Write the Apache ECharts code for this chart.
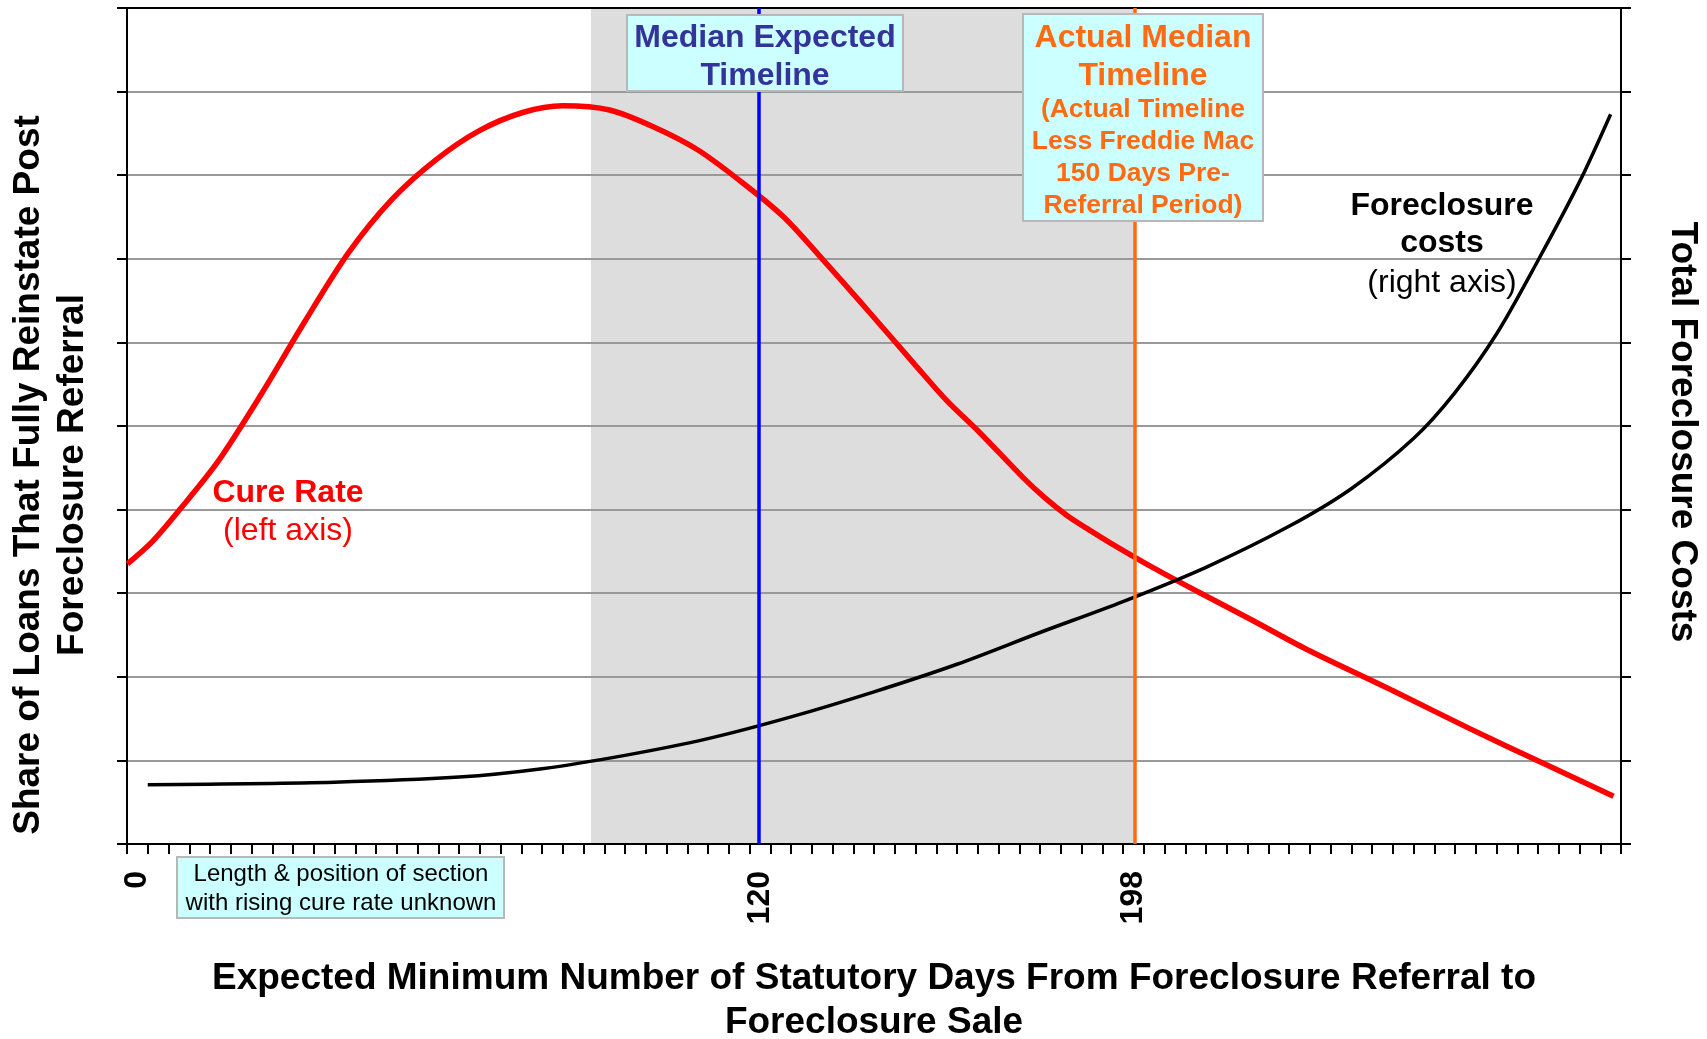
<!DOCTYPE html>
<html>
<head>
<meta charset="utf-8">
<title>Cure rate vs foreclosure costs</title>
<script src="https://cdn.jsdelivr.net/npm/echarts@6/dist/echarts.min.js"></script>
<style>
  html, body { margin: 0; padding: 0; background: #fff; }
  #chart { width: 1707px; height: 1039px; }
</style>
</head>
<body>
<div id="chart"></div>
<script>
// x axis is a row of 72 slots, only a few carry a day label
const slotCount = 72;
const labelSlots = [0, 30, 48];
const labelDays = ['0', '120', '198'];

// cure rate (left axis), positions in slot units
const cureRatePos = [0.02, 1.23, 2.54, 4.37, 6.47, 8.57, 10.67, 12.77, 14.87, 16.96, 19.07, 21.0,
  23.26, 25.36, 27.46, 29.56, 31.65, 33.75, 35.85, 37.95, 39.52, 41.1, 43.2, 44.24, 45.3,
  46.35, 47.4, 49.49, 51.59, 54.21, 56.84, 61.04, 64.71, 68.38, 71.64];
const cureRate = [3.35, 3.62, 4.0, 4.57, 5.38, 6.25, 7.07, 7.71, 8.18, 8.53, 8.75, 8.83,
  8.78, 8.58, 8.31, 7.93, 7.5, 6.93, 6.34, 5.74, 5.3, 4.92, 4.38, 4.14, 3.93,
  3.76, 3.6, 3.3, 3.02, 2.68, 2.33, 1.83, 1.38, 0.95, 0.57];

// foreclosure costs (right axis)
const costPos = [1.0, 10, 16, 20, 24, 28, 32, 36, 40, 44, 48, 52,
  56, 59, 62, 64, 66, 68, 70, 71.5];
const costs = [0.71, 0.74, 0.8, 0.9, 1.06, 1.26, 1.52, 1.82, 2.15, 2.53, 2.9, 3.31,
  3.8, 4.25, 4.85, 5.4, 6.1, 6.98, 7.92, 8.73];

// shaded band and the two median markers (slot units)
const shadeRange = [22.36, 48.55];
const medianExpectedPos = 30.45;
const actualMedianPos = 48.55;

const FONT = 'Liberation Sans, Arial, sans-serif';

const categories = Array.from({ length: slotCount }, (_, i) => String(i));
const zip = (xs, ys) => xs.map((x, i) => [x, ys[i]]);

const chart = echarts.init(document.getElementById('chart'));

chart.setOption({
  animation: false,
  textStyle: { fontFamily: FONT },
  grid: {
    left: 127, right: 86, top: 8, bottom: 195,
    outerBoundsMode: 'none',
    show: true, borderColor: '#000', borderWidth: 2, z: 2
  },
  xAxis: [
    {
      type: 'category',
      data: categories,
      boundaryGap: true,
      z: 2,
      axisLine: { show: true, lineStyle: { color: '#000', width: 2 } },
      axisTick: { show: true, interval: 0, alignWithLabel: false, length: 10, lineStyle: { color: '#000', width: 2 } },
      axisLabel: {
        interval: 0,
        rotate: 90,
        margin: 27,
        fontSize: 32,
        fontWeight: 'bold',
        color: '#000',
        fontFamily: FONT,
        formatter: (v) => {
          const k = labelSlots.indexOf(Number(v));
          return k >= 0 ? labelDays[k] : '';
        }
      },
      name: 'Expected Minimum Number of Statutory Days From Foreclosure Referral to\nForeclosure Sale',
      nameLocation: 'middle',
      nameGap: 113,
      nameTextStyle: { fontSize: 37, fontWeight: 'bold', color: '#000', lineHeight: 44, fontFamily: FONT }
    },
    { type: 'value', min: 0, max: slotCount, show: false }
  ],
  yAxis: [
    {
      type: 'value', min: 0, max: 10, interval: 1, z: 2,
      axisLine: { show: true, lineStyle: { color: '#000', width: 2 } },
      axisTick: { show: true, length: 10, lineStyle: { color: '#000', width: 2 } },
      axisLabel: { show: false },
      splitLine: { show: true, showMinLine: false, showMaxLine: false, lineStyle: { color: '#999', width: 2 } },
      name: 'Share of Loans That Fully Reinstate Post\nForeclosure Referral',
      nameLocation: 'middle',
      nameRotate: 90,
      nameGap: 32,
      nameTextStyle: {
        fontSize: 37, fontWeight: 'bold', color: '#000', lineHeight: 44, fontFamily: FONT,
        padding: [0, 98, 0, 0]
      }
    },
    {
      type: 'value', min: 0, max: 10, interval: 1, position: 'right', z: 2,
      axisLine: { show: true, lineStyle: { color: '#000', width: 2 } },
      axisTick: { show: true, length: 10, lineStyle: { color: '#000', width: 2 } },
      axisLabel: { show: false },
      splitLine: { show: false },
      name: 'Total Foreclosure Costs',
      nameLocation: 'middle',
      nameRotate: -90,
      nameGap: 43,
      nameTextStyle: {
        fontSize: 37, fontWeight: 'bold', color: '#000', fontFamily: FONT,
        padding: [0, 0, 0, 12]
      }
    }
  ],
  series: [
    {
      name: 'band',
      type: 'line',
      xAxisIndex: 1,
      yAxisIndex: 0,
      data: [],
      markArea: {
        silent: true,
        z: 1,
        itemStyle: { color: '#dddddd' },
        data: [[{ coord: [shadeRange[0], 0] }, { coord: [shadeRange[1], 10] }]]
      },
      markLine: {
        silent: true,
        symbol: 'none',
        label: { show: false },
        data: [
          [{ coord: [medianExpectedPos, 0], lineStyle: { color: '#0000ff', width: 3.5, type: 'solid' } },
           { coord: [medianExpectedPos, 10] }],
          [{ coord: [actualMedianPos, 0], lineStyle: { color: '#ff6a13', width: 3.5, type: 'solid' } },
           { coord: [actualMedianPos, 10] }]
        ]
      }
    },
    {
      name: 'Cure Rate',
      type: 'line',
      xAxisIndex: 1,
      yAxisIndex: 0,
      z: 3,
      smooth: 0.3,
      showSymbol: false,
      lineStyle: { color: '#ff0000', width: 5.5 },
      data: zip(cureRatePos, cureRate)
    },
    {
      name: 'Foreclosure costs',
      type: 'line',
      xAxisIndex: 1,
      yAxisIndex: 1,
      z: 3,
      smooth: 0.3,
      showSymbol: false,
      lineStyle: { color: '#000', width: 3.5 },
      data: zip(costPos, costs)
    }
  ],
  graphic: [
    // Median Expected Timeline box
    {
      type: 'rect', z: 100,
      shape: { x: 627, y: 15, width: 276, height: 76 },
      style: { fill: '#ccffff', stroke: '#b8b8b8', lineWidth: 2 }
    },
    {
      type: 'text', z: 101, x: 765, y: 57,
      style: {
        text: 'Median Expected\nTimeline', fill: '#333399',
        font: 'bold 32px ' + FONT, lineHeight: 38,
        align: 'center', verticalAlign: 'middle'
      }
    },
    // Actual Median Timeline box
    {
      type: 'rect', z: 100,
      shape: { x: 1023, y: 14, width: 240, height: 207 },
      style: { fill: '#ccffff', stroke: '#b8b8b8', lineWidth: 2 }
    },
    {
      type: 'text', z: 101, x: 1143, y: 57,
      style: {
        text: 'Actual Median\nTimeline', fill: '#ff6a13',
        font: 'bold 32px ' + FONT, lineHeight: 38,
        align: 'center', verticalAlign: 'middle'
      }
    },
    {
      type: 'text', z: 101, x: 1143, y: 158,
      style: {
        text: '(Actual Timeline\nLess Freddie Mac\n150 Days Pre-\nReferral Period)', fill: '#ff6a13',
        font: 'bold 26.5px ' + FONT, lineHeight: 32,
        align: 'center', verticalAlign: 'middle'
      }
    },
    // series labels
    {
      type: 'text', z: 101, x: 1442, y: 225,
      style: {
        text: 'Foreclosure\ncosts', fill: '#000',
        font: 'bold 32px ' + FONT, lineHeight: 37,
        align: 'center', verticalAlign: 'middle'
      }
    },
    {
      type: 'text', z: 101, x: 1442, y: 283,
      style: {
        text: '(right axis)', fill: '#000',
        font: '32px ' + FONT, align: 'center', verticalAlign: 'middle'
      }
    },
    {
      type: 'text', z: 101, x: 288, y: 493,
      style: {
        text: 'Cure Rate', fill: '#ff0000',
        font: 'bold 32px ' + FONT, align: 'center', verticalAlign: 'middle'
      }
    },
    {
      type: 'text', z: 101, x: 288, y: 531,
      style: {
        text: '(left axis)', fill: '#ff0000',
        font: '32px ' + FONT, align: 'center', verticalAlign: 'middle'
      }
    },
    // note under the axis
    {
      type: 'rect', z: 100,
      shape: { x: 177, y: 857, width: 327, height: 61 },
      style: { fill: '#ccffff', stroke: '#b8b8b8', lineWidth: 2 }
    },
    {
      type: 'text', z: 101, x: 341, y: 889,
      style: {
        text: 'Length & position of section\nwith rising cure rate unknown', fill: '#000',
        font: '24px ' + FONT, lineHeight: 29,
        align: 'center', verticalAlign: 'middle'
      }
    }
  ]
});
</script>
</body>
</html>
